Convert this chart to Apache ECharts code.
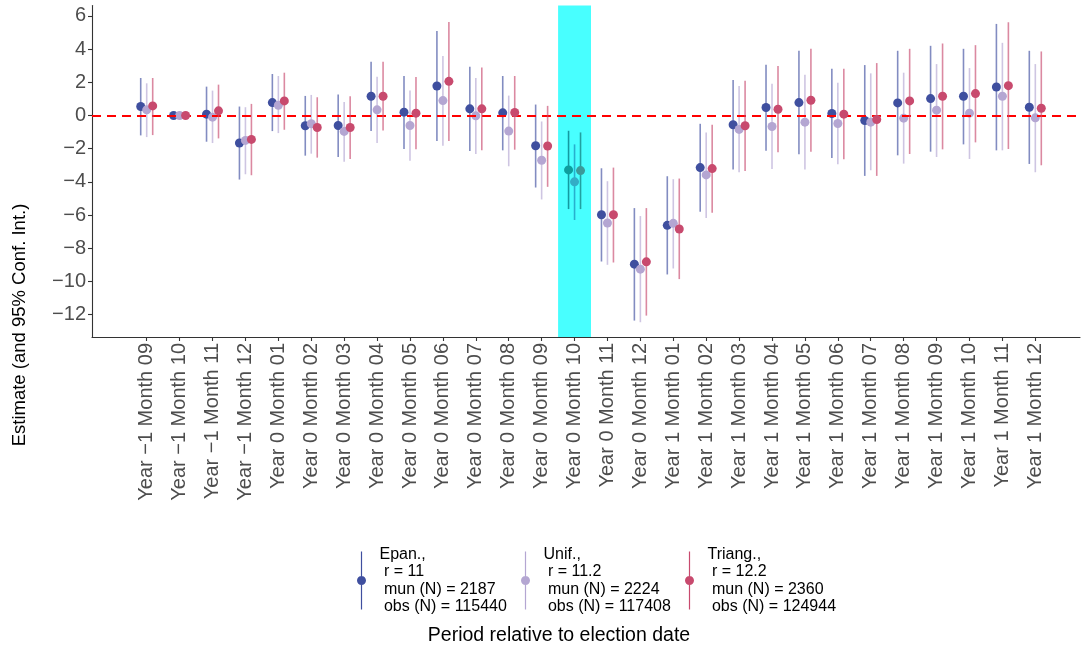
<!DOCTYPE html>
<html>
<head>
<meta charset="utf-8">
<script src="https://cdn.jsdelivr.net/npm/echarts@6/dist/echarts.min.js"></script>
<style>html,body{margin:0;padding:0;background:#fff;}#c{width:1081px;height:648px;}</style>
</head>
<body>
<div id="c"></div>
<script>
var categories = [
  "Year \u22121 Month 09","Year \u22121 Month 10","Year \u22121 Month 11","Year \u22121 Month 12",
  "Year 0 Month 01","Year 0 Month 02","Year 0 Month 03","Year 0 Month 04","Year 0 Month 05","Year 0 Month 06",
  "Year 0 Month 07","Year 0 Month 08","Year 0 Month 09","Year 0 Month 10","Year 0 Month 11","Year 0 Month 12",
  "Year 1 Month 01","Year 1 Month 02","Year 1 Month 03","Year 1 Month 04","Year 1 Month 05","Year 1 Month 06",
  "Year 1 Month 07","Year 1 Month 08","Year 1 Month 09","Year 1 Month 10","Year 1 Month 11","Year 1 Month 12"
];
var highlightCategory = "Year 0 Month 10";
var yTicks = [-12,-10,-8,-6,-4,-2,0,2,4,6];

var epanEst = [0.54,0,0.08,-1.66,0.78,-0.62,-0.60,1.16,0.20,1.78,0.40,0.16,-1.82,-3.28,-5.98,-8.96,-6.62,-3.14,-0.56,0.48,0.78,0.12,-0.30,0.76,1.02,1.16,1.72,0.50];
var epanLo  = [-1.20,0,-1.58,-3.86,-0.94,-2.42,-2.50,-0.94,-2.02,-1.54,-2.14,-2.10,-4.34,-5.64,-8.80,-12.36,-9.58,-5.80,-3.26,-2.12,-2.34,-2.56,-3.64,-2.40,-2.18,-1.74,-2.10,-2.92];
var epanHi  = [2.26,0,1.74,0.54,2.50,1.18,1.26,3.24,2.38,5.10,2.94,2.38,0.66,-0.92,-3.18,-5.58,-3.66,-0.50,2.14,3.06,3.90,2.82,3.04,3.90,4.20,4.02,5.52,3.90];

var unifEst = [0.34,0,-0.10,-1.50,0.62,-0.50,-0.96,0.34,-0.60,0.90,-0.02,-0.94,-2.70,-4.00,-6.48,-9.26,-6.50,-3.58,-0.84,-0.66,-0.40,-0.48,-0.40,-0.16,0.32,0.14,1.16,-0.14];
var unifLo  = [-1.30,0,-1.66,-3.54,-1.06,-2.30,-2.78,-1.66,-2.72,-1.82,-2.32,-3.06,-5.06,-6.30,-9.00,-12.46,-9.22,-6.18,-3.42,-3.22,-3.26,-2.94,-3.30,-2.90,-2.50,-2.62,-2.10,-3.42];
var unifHi  = [1.94,0,1.50,0.50,2.38,1.24,0.82,2.34,1.50,3.58,2.26,1.20,-0.36,-1.74,-3.96,-6.06,-3.84,-1.02,1.78,1.92,2.46,1.98,2.54,2.58,3.10,2.86,4.38,3.10];

var triangEst = [0.58,0,0.28,-1.44,0.88,-0.72,-0.72,1.16,0.14,2.06,0.40,0.18,-1.84,-3.32,-5.98,-8.82,-6.84,-3.20,-0.62,0.38,0.92,0.08,-0.24,0.88,1.16,1.32,1.80,0.44];
var triangLo  = [-1.18,0,-1.38,-3.60,-0.86,-2.54,-2.62,-0.90,-2.04,-1.54,-2.10,-2.06,-4.30,-5.64,-8.86,-12.06,-9.86,-5.86,-3.34,-2.22,-2.18,-2.64,-3.64,-2.32,-2.04,-1.62,-2.02,-3.00];
var triangHi  = [2.26,0,1.86,0.70,2.58,1.10,1.16,3.24,2.32,5.64,2.90,2.38,0.58,-1.02,-3.14,-5.58,-3.80,-0.56,2.10,2.98,4.02,2.82,3.16,4.02,4.34,4.24,5.62,3.86];

var seriesNames = ["Epan.", "Unif.", "Triang."];
var legendTexts = [
  "Epan.,\n r = 11\n mun (N) = 2187\n obs (N) = 115440",
  "Unif.,\n r = 11.2\n mun (N) = 2224\n obs (N) = 117408",
  "Triang.,\n r = 12.2\n mun (N) = 2360\n obs (N) = 124944"
];

var FONT = "'Liberation Sans', Arial, Helvetica, sans-serif";
var styles = [
  {point:'#3F4F9F', line:'rgba(63,79,159,0.65)', bandPoint:'#0E9E9E', bandLine:'rgba(0,120,130,0.75)', offset:-0.182},
  {point:'#B4A6D2', line:'rgba(180,166,210,0.65)', bandPoint:'#33ADC6', bandLine:'rgba(30,150,190,0.75)', offset:0},
  {point:'#C84A6E', line:'rgba(200,74,110,0.65)', bandPoint:'#3C9A9A', bandLine:'rgba(20,130,130,0.75)', offset:0.182}
];
var allData = [[epanEst,epanLo,epanHi],[unifEst,unifLo,unifHi],[triangEst,triangLo,triangHi]];
var hIdx = categories.indexOf(highlightCategory);

var xMin = -1.662, xMax = 28.358;
var yMin = -13.35, yMax = 6.63;

var legendIcon = 'path://M4.4,0 H5.6 V58 H4.4 Z M0.5,29 C0.5,26.515 2.515,24.5 5,24.5 C7.485,24.5 9.5,26.515 9.5,29 C9.5,31.485 7.485,33.5 5,33.5 C2.515,33.5 0.5,31.485 0.5,29 Z';

var series = [];
series.push({
  type:'line', data:[], z:1, silent:true,
  markArea:{silent:true, itemStyle:{color:'#48FFFF', opacity:1},
    data:[[{xAxis:hIdx-0.5},{xAxis:hIdx+0.5}]]}
});
allData.forEach(function(d, s){
  var st = styles[s];
  var data = categories.map(function(c, i){ return [i + st.offset, d[0][i], d[1][i], d[2][i], i === hIdx ? 1 : 0]; });
  series.push({
    name: seriesNames[s], type:'custom', z: 3 + s,
    itemStyle:{color: st.point},
    encode:{x:0, y:[1,2,3]},
    data: data,
    renderItem: function(params, api){
      var x = api.value(0), est = api.value(1), lo = api.value(2), hi = api.value(3), inb = api.value(4);
      var pLo = api.coord([x, lo]), pHi = api.coord([x, hi]), pE = api.coord([x, est]);
      return {type:'group', children:[
        {type:'line', shape:{x1:pLo[0], y1:pLo[1], x2:pHi[0], y2:pHi[1]}, style:{stroke: inb ? st.bandLine : st.line, lineWidth:1.6}},
        {type:'circle', shape:{cx:pE[0], cy:pE[1], r:4.5}, style:{fill: inb ? st.bandPoint : st.point}}
      ]};
    }
  });
});
series.push({
  type:'line', data:[], z:10, silent:true,
  markLine:{silent:true, symbol:['none','none'], label:{show:false},
    lineStyle:{color:'#FF0000', width:2, type:[9,6]},
    data:[{yAxis:0}]}
});

var legends = seriesNames.map(function(n, s){
  return {
    data:[{name:n, icon:legendIcon}],
    left: [357, 521, 685][s], top: 546, padding:0,
    itemWidth:10, itemHeight:58, selectedMode:false,
    formatter: function(name){ return legendTexts[seriesNames.indexOf(name)]; },
    textStyle:{fontFamily:FONT, fontSize:16, lineHeight:17.3, color:'#000', padding:[0,0,0,8]}
  };
});

var chart = echarts.init(document.getElementById('c'), null, {renderer:'canvas'});
chart.setOption({
  animation:false,
  backgroundColor:'#fff',
  textStyle:{fontFamily:FONT},
  grid:{left:92, right:1, top:5.5, bottom:311, containLabel:false},
  xAxis:{
    type:'value', min:xMin, max:xMax,
    splitLine:{show:false},
    axisLine:{show:true, onZero:false, lineStyle:{color:'#333', width:1.1}},
    axisTick:{show:true, customValues: categories.map(function(c,i){return i;}), length:4, lineStyle:{color:'#333', width:1.1}},
    axisLabel:{show:true, customValues: categories.map(function(c,i){return i;}), rotate:90, margin:6,
      fontFamily:FONT, fontSize:20, color:'#4D4D4D',
      formatter:function(v){ return categories[Math.round(v)]; }}
  },
  yAxis:{
    type:'value', min:yMin, max:yMax,
    splitLine:{show:false},
    axisLine:{show:true, onZero:false, lineStyle:{color:'#333', width:1.1}},
    axisTick:{show:true, customValues:yTicks, length:4, lineStyle:{color:'#333', width:1.1}},
    axisLabel:{show:true, customValues:yTicks, margin:6, fontFamily:FONT, fontSize:20, color:'#4D4D4D',
      formatter:function(v){ return v < 0 ? '\u2212' + Math.abs(v) : String(v); }}
  },
  legend: legends,
  graphic:[
    {type:'text', x:20, y:325, rotation:Math.PI/2,
      style:{text:'Estimate (and 95% Conf. Int.)', align:'center', verticalAlign:'middle', fontFamily:FONT, fontSize:18.5, fill:'#000'}},
    {type:'text', x:559, y:636,
      style:{text:'Period relative to election date', align:'center', verticalAlign:'middle', fontFamily:FONT, fontSize:19.5, fill:'#000'}}
  ],
  series: series
});
</script>
</body>
</html>
